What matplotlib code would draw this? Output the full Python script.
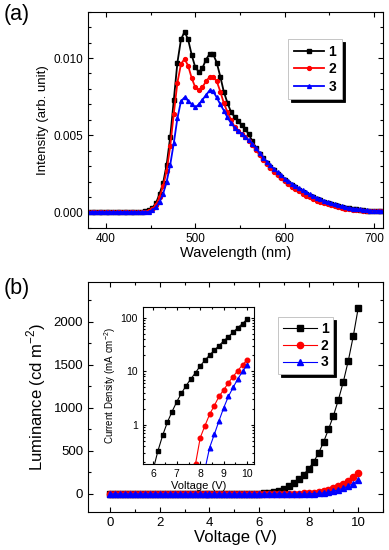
import numpy as np
import matplotlib
matplotlib.use("Agg")
import matplotlib.pyplot as plt
from matplotlib.ticker import MultipleLocator, LogLocator, NullFormatter, FixedLocator

plt.rcParams['font.family'] = ['Liberation Sans', 'DejaVu Sans']
plt.rcParams['mathtext.fontset'] = 'custom'
plt.rcParams['mathtext.rm'] = 'Liberation Sans'

# (a) EL spectra, intensity in units of 1e-3
wavelength = np.arange(380, 712, 4)
int_1 = [0.05]*16 + [0.08, 0.15, 0.3, 0.6, 1.2, 1.9, 3.1, 4.9, 7.3, 9.7,
                     11.2, 11.7, 11.2, 10.2, 9.4, 9.1, 9.35, 9.9, 10.25, 10.25,
                     9.7, 8.8, 7.8, 7.1, 6.5, 6.2, 5.9, 5.65, 5.4, 5.05,
                     4.6, 4.2, 3.8, 3.5, 3.22, 2.97, 2.73, 2.5, 2.3, 2.1,
                     1.93, 1.77, 1.62, 1.48, 1.34, 1.21, 1.09, 0.98, 0.87, 0.78,
                     0.69, 0.61, 0.53, 0.47, 0.41, 0.36, 0.31, 0.27, 0.23, 0.2,
                     0.18, 0.15, 0.13, 0.12, 0.1, 0.09, 0.08]
int_2 = [0.03]*17 + [0.1, 0.22, 0.5, 1.0, 1.7, 2.7, 4.3, 6.4, 8.4,
                     9.6, 9.95, 9.5, 8.7, 8.1, 7.9, 8.1, 8.5, 8.77, 8.77,
                     8.5, 7.83, 7.07, 6.5, 6.0, 5.55, 5.3, 5.08, 4.87, 4.62,
                     4.35, 4.05, 3.72, 3.42, 3.15, 2.9, 2.65, 2.43, 2.22, 2.03,
                     1.85, 1.68, 1.52, 1.37, 1.23, 1.1, 0.98, 0.87, 0.77, 0.68,
                     0.6, 0.53, 0.46, 0.4, 0.35, 0.3, 0.26, 0.22, 0.19, 0.17,
                     0.15, 0.13, 0.11, 0.1, 0.09, 0.08, 0.07]
int_3 = [0.03]*18 + [0.15, 0.35, 0.7, 1.2, 2.0, 3.1, 4.5, 6.1,
                     7.2, 7.45, 7.25, 7.0, 6.8, 7.0, 7.3, 7.6, 7.9, 7.85,
                     7.45, 7.0, 6.6, 6.15, 5.8, 5.5, 5.3, 5.1, 4.9, 4.68,
                     4.45, 4.15, 3.85, 3.55, 3.3, 3.05, 2.82, 2.6, 2.4, 2.2,
                     2.03, 1.87, 1.72, 1.58, 1.44, 1.3, 1.18, 1.06, 0.95, 0.85,
                     0.76, 0.67, 0.59, 0.52, 0.46, 0.4, 0.35, 0.3, 0.26, 0.23,
                     0.2, 0.17, 0.15, 0.13, 0.12, 0.11, 0.1]

# (b) luminance vs voltage
voltage = np.arange(0, 10.01, 0.2)
lum_1 = [0]*31 + [5, 10, 20, 36, 59, 87, 126, 174, 225, 292,
                  371, 473, 600, 750, 907, 1093, 1302, 1546, 1830, 2158]
lum_2 = [0]*37 + [1, 3, 5, 9, 15, 24, 35, 50, 68, 92, 120, 155, 195, 245]
lum_3 = [0]*40 + [1, 3, 7, 12, 20, 32, 47, 66, 90, 120, 160]

# inset: current density
v_j1 = [6.0, 6.2, 6.4, 6.6, 6.8, 7.0, 7.2, 7.4, 7.6, 7.8, 8.0, 8.2, 8.4,
        8.6, 8.8, 9.0, 9.2, 9.4, 9.6, 9.8, 10.0]
j_1 = [0.15, 0.33, 0.64, 1.12, 1.77, 2.7, 3.9, 5.4, 7.2, 9.4, 12.6, 16, 20.1,
       24.6, 30, 36.7, 44, 53, 65, 77, 94]
v_j2 = [7.6, 7.8, 8.0, 8.2, 8.4, 8.6, 8.8, 9.0, 9.2, 9.4, 9.6, 9.8, 10.0]
j_2 = [0.08, 0.19, 0.58, 0.97, 1.58, 2.3, 3.4, 4.5, 6.1, 7.95, 10.3, 13.1, 16.3]
v_j3 = [8.2, 8.4, 8.6, 8.8, 9.0, 9.2, 9.4, 9.6, 9.8, 10.0]
j_3 = [0.15, 0.38, 0.67, 1.2, 2.1, 3.4, 5.0, 7.2, 9.9, 13.1]

labels = ["1", "2", "3"]
colors = ["black", "red", "blue"]
markers = ["s", "o", "^"]


def style_axes(ax, size):
    ax.tick_params(which="both", direction="in", top=True, right=True,
                   labelsize=size, width=0.8)
    ax.tick_params(which="major", length=3.5)
    ax.tick_params(which="minor", length=2)
    for s in ax.spines.values():
        s.set_linewidth(0.8)


fig = plt.figure(figsize=(3.89, 5.5), dpi=100)

# ---- panel (a)
ax1 = fig.add_axes([0.2262, 0.5855, 0.7584, 0.3933])
for y, c, m, l in zip([int_1, int_2, int_3], colors, markers, labels):
    ax1.plot(wavelength, np.array(y) * 1e-3, color=c, marker=m, ms=2.8,
             lw=1.3, label=l)
ax1.set_xlim(380, 710)
ax1.set_ylim(-0.001, 0.013)
ax1.xaxis.set_major_locator(MultipleLocator(100))
ax1.xaxis.set_minor_locator(MultipleLocator(50))
ax1.yaxis.set_major_locator(MultipleLocator(0.005))
ax1.yaxis.set_minor_locator(MultipleLocator(0.001))
ax1.yaxis.set_major_formatter(matplotlib.ticker.FormatStrFormatter("%.3f"))
style_axes(ax1, 8.5)
ax1.set_xlabel("Wavelength (nm)", fontsize=10.5, labelpad=1)
ax1.set_ylabel("Intensity (arb. unit)", fontsize=9.5, labelpad=3)
leg = ax1.legend(loc="upper left", bbox_to_anchor=(0.655, 0.905),
                 prop={"size": 10, "weight": "bold"}, handlelength=2.2,
                 fancybox=False, edgecolor="#bbbbbb", borderpad=0.4,
                 labelspacing=0.25, handletextpad=0.3,
                 shadow={"color": "black", "alpha": 1})
leg.get_frame().set_linewidth(0.6)
fig.text(0.01, 0.993, "(a)", fontsize=15.5, va="top", ha="left")

# ---- panel (b)
ax2 = fig.add_axes([0.2262, 0.0691, 0.7584, 0.4182])
for y, c, m, l in zip([lum_1, lum_2, lum_3], colors, markers, labels):
    ax2.plot(voltage, y, color=c, marker=m, ms=4.5, lw=0.8, label=l)
ax2.set_xlim(-0.9, 11)
ax2.set_ylim(-210, 2460)
ax2.xaxis.set_major_locator(MultipleLocator(2))
ax2.xaxis.set_minor_locator(MultipleLocator(1))
ax2.yaxis.set_major_locator(MultipleLocator(500))
ax2.yaxis.set_minor_locator(MultipleLocator(250))
style_axes(ax2, 9.5)
ax2.set_xlabel("Voltage (V)", fontsize=12, labelpad=1)
ax2.set_ylabel("Luminance (cd m$^{-2}$)", fontsize=12, labelpad=4)
leg2 = ax2.legend(loc="upper left", bbox_to_anchor=(0.622, 0.878),
                  prop={"size": 10, "weight": "bold"}, handlelength=2.4,
                  fancybox=False, edgecolor="#bbbbbb", borderpad=0.35,
                  labelspacing=0.2, handletextpad=0.3,
                  shadow={"color": "black", "alpha": 1})
leg2.get_frame().set_linewidth(0.6)
fig.text(0.01, 0.495, "(b)", fontsize=15.5, va="top", ha="left")

# ---- inset
ax3 = fig.add_axes([0.3668, 0.1558, 0.2869, 0.2855])
for x, y, c, m in zip([v_j1, v_j2, v_j3], [j_1, j_2, j_3], colors, markers):
    ax3.plot(x, y, color=c, marker=m, ms=3.3, lw=0.8)
ax3.set_yscale("log")
ax3.set_xlim(5.55, 10.3)
ax3.set_ylim(0.185, 155)
ax3.xaxis.set_major_locator(MultipleLocator(1))
ax3.xaxis.set_minor_locator(MultipleLocator(0.5))
ax3.yaxis.set_major_locator(FixedLocator([1, 10, 100]))
ax3.yaxis.set_major_formatter(matplotlib.ticker.FixedFormatter(["1", "10", "100"]))
ax3.yaxis.set_minor_locator(LogLocator(base=10, subs=np.arange(2, 10)))
ax3.yaxis.set_minor_formatter(NullFormatter())
style_axes(ax3, 7.5)
ax3.tick_params(which="major", length=2.5)
ax3.tick_params(which="minor", length=1.5)
ax3.set_xlabel("Voltage (V)", fontsize=8, labelpad=1)
ax3.set_ylabel("Current Density (mA cm$^{-2}$)", fontsize=7, labelpad=2)

plt.savefig("out.png", dpi=100)
